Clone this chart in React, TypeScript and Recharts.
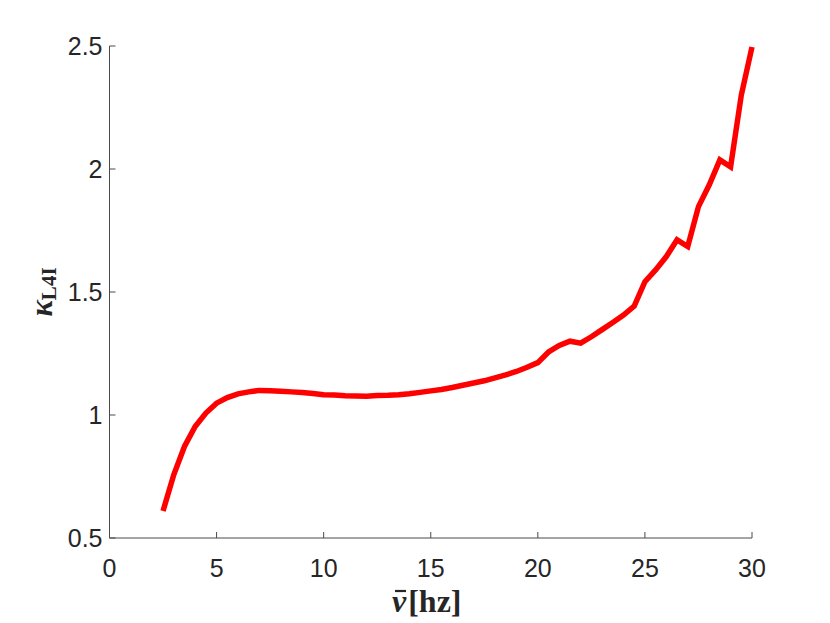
import React from "react"
import { LineChart, Line, XAxis, YAxis, Label } from "recharts"

// frequency (hz)
const nu = [
  2.5, 3, 3.5, 4, 4.5, 5, 5.5, 6, 6.5, 7, 7.5, 8, 8.5, 9, 9.5, 10,
  10.5, 11, 11.5, 12, 12.5, 13, 13.5, 14, 14.5, 15, 15.5, 16, 16.5, 17,
  17.5, 18, 18.5, 19, 19.5, 20, 20.5, 21, 21.5, 22, 22.5, 23, 23.5, 24,
  24.5, 25, 25.5, 26, 26.5, 27, 27.5, 28, 28.5, 29, 29.5, 30
]

// kappa L4I
const kappa = [
  0.61, 0.757, 0.872, 0.953, 1.008, 1.048, 1.071, 1.086, 1.094, 1.1, 1.099, 1.097, 1.094, 1.091, 1.087, 1.082,
  1.081, 1.078, 1.077, 1.076, 1.079, 1.08, 1.082, 1.086, 1.092, 1.098, 1.104, 1.112, 1.121, 1.13,
  1.139, 1.151, 1.163, 1.177, 1.194, 1.213, 1.256, 1.283, 1.3, 1.292, 1.318, 1.347, 1.376, 1.406,
  1.443, 1.542, 1.59, 1.644, 1.712, 1.685, 1.847, 1.935, 2.037, 2.009, 2.3, 2.496
]

const xTicks = [0, 5, 10, 15, 20, 25, 30]
const yTicks = [0.5, 1, 1.5, 2, 2.5]

const rows = nu.map((x, i) => ({ x, k: kappa[i] }))

const AXIS = "#4a4a4a"
const TXT = "#262626"
const SANS = "'Liberation Sans', Arial, Helvetica, sans-serif"
const SERIF = "'Liberation Serif', 'Times New Roman', serif"

const XTick = (props: any) => {
  const { x, y, payload } = props
  return (
    <g>
      <line x1={x} x2={x} y1={y} y2={y - 6} stroke={AXIS} strokeWidth={1} />
      <text x={x} y={y + 39} textAnchor="middle" fontFamily={SANS} fontSize={25} fill={TXT}>
        {payload.value}
      </text>
    </g>
  )
}

const YTick = (props: any) => {
  const { x, y, payload } = props
  return (
    <g>
      <line x1={x} x2={x + 6} y1={y} y2={y} stroke={AXIS} strokeWidth={1} />
      <text x={x - 7} y={y + 9} textAnchor="end" fontFamily={SANS} fontSize={25} fill={TXT}>
        {payload.value}
      </text>
    </g>
  )
}

export default function App() {
  return (
    <div style={{ width: 822, height: 615 }}>
      <LineChart
        width={822}
        height={615}
        data={rows}
        margin={{ top: 38, right: 78, left: 41.5, bottom: 25 }}
      >
        <XAxis
          type="number"
          dataKey="x"
          domain={[0, 30]}
          ticks={xTicks}
          height={60}
          tickSize={0}
          tickMargin={0}
          tick={<XTick />}
          axisLine={{ stroke: AXIS, strokeWidth: 1 }}
        >
          <Label
            content={() => (
              <g>
                <text x={384} y={604} textAnchor="start" fontFamily={SERIF} fontWeight="bold" fontSize={32} fill={TXT}>
                  <tspan fontStyle="italic">{"\u03bd"}</tspan>
                  <tspan dx={2}>[hz]</tspan>
                </text>
                <line x1={387} x2={398} y1={583} y2={583} stroke={TXT} strokeWidth={2.2} />
              </g>
            )}
          />
        </XAxis>
        <YAxis
          type="number"
          domain={[0.5, 2.5]}
          ticks={yTicks}
          width={60}
          tickSize={0}
          tickMargin={0}
          tick={<YTick />}
          axisLine={{ stroke: AXIS, strokeWidth: 1 }}
        >
          <Label
            content={() => (
              <text transform="translate(44, 284) rotate(-90)" x={0} y={0} textAnchor="middle" fontFamily={SERIF} fontWeight="bold" fill={TXT}>
                <tspan fontStyle="italic" fontSize={31}>{"\u03ba"}</tspan>
                <tspan fontSize={21} dy={4}>L4I</tspan>
              </text>
            )}
          />
        </YAxis>
        <Line
          type="linear"
          dataKey="k"
          stroke="#ff0000"
          strokeWidth={5.5}
          dot={false}
          isAnimationActive={false}
        />
      </LineChart>
    </div>
  )
}
